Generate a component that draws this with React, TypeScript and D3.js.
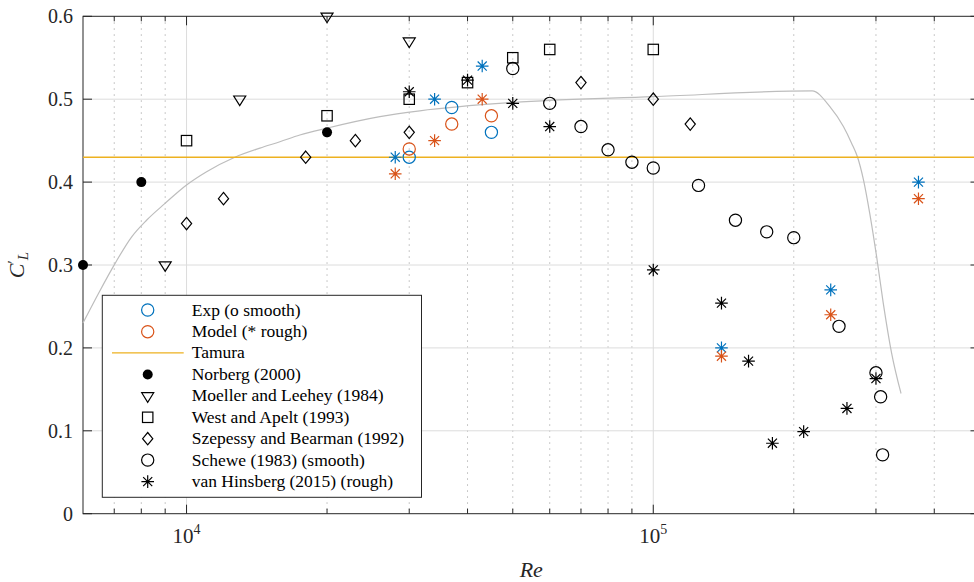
import * as d3 from "d3";
import React from "react";

// Lift coefficient C'_L vs Reynolds number
const norbergRe = [6000, 8000, 20000];
const norbergCL = [0.3, 0.4, 0.46];

const moellerRe = [9000, 13000, 20000, 30000];
const moellerCL = [0.3, 0.5, 0.6, 0.57];

const westRe = [10000, 20000, 30000, 40000, 50000, 60000, 100000];
const westCL = [0.45, 0.48, 0.5, 0.52, 0.55, 0.56, 0.56];

const szepessyRe = [10000, 12000, 18000, 23000, 30000, 70000, 100000, 120000];
const szepessyCL = [0.35, 0.38, 0.43, 0.45, 0.46, 0.52, 0.5, 0.47];

const scheweRe = [50000, 60000, 70000, 80000, 90000, 100000, 125000, 150000, 175000, 200000, 250000, 300000, 307000, 310000];
const scheweCL = [0.537, 0.495, 0.467, 0.439, 0.424, 0.417, 0.396, 0.354, 0.34, 0.333, 0.226, 0.17, 0.141, 0.071];

const hinsbergRe = [30000, 40000, 50000, 60000, 100000, 140000, 160000, 180000, 210000, 260000, 300000];
const hinsbergCL = [0.509, 0.523, 0.495, 0.467, 0.294, 0.254, 0.184, 0.085, 0.099, 0.127, 0.163];

const expSmoothRe = [30000, 37000, 45000];
const expSmoothCL = [0.43, 0.49, 0.46];
const expRoughRe = [28000, 34000, 43000, 140000, 240000, 370000];
const expRoughCL = [0.43, 0.5, 0.54, 0.2, 0.27, 0.4];

const modelSmoothRe = [30000, 37000, 45000];
const modelSmoothCL = [0.44, 0.47, 0.48];
const modelRoughRe = [28000, 34000, 43000, 140000, 240000, 370000];
const modelRoughCL = [0.41, 0.45, 0.5, 0.19, 0.24, 0.38];

const tamuraCL = 0.43;

// grey fitted curve (no legend entry)
const curveRe = [6000, 6480, 7030, 7630, 8210, 8980, 10000, 11040, 12690, 14360, 15850, 17490, 19950, 25960, 31600, 50000, 100000, 219000, 239000, 255500, 266000, 274000, 282000, 291000, 301000, 311000, 324000, 339500];
const curveCL = [0.23, 0.266, 0.302, 0.334, 0.354, 0.374, 0.3965, 0.4125, 0.43, 0.441, 0.4487, 0.4568, 0.465, 0.479, 0.486, 0.496, 0.503, 0.51, 0.491, 0.467, 0.447, 0.43, 0.403, 0.362, 0.31, 0.254, 0.194, 0.145];

const legendLabels = [
	"Exp (o smooth)",
	"Model (* rough)",
	"Tamura",
	"Norberg (2000)",
	"Moeller and Leehey (1984)",
	"West and Apelt (1993)",
	"Szepessy and Bearman (1992)",
	"Schewe (1983) (smooth)",
	"van Hinsberg (2015) (rough)",
];
const yTicks = [0, 0.1, 0.2, 0.3, 0.4, 0.5, 0.6];

const BLUE = "#0072BD";
const ORANGE = "#D95319";
const YELLOW = "#EDB120";
const INK = "#262626";
const FONT = "'Liberation Serif', 'DejaVu Serif', serif";

type MarkerType = "circle" | "filled" | "tri" | "square" | "diamond" | "star";

const Marker = ({ type, x, y, color = "#000" }: { type: MarkerType; x: number; y: number; color?: string }) => {
	const sw = 1.2;
	if (type === "circle")
		return <circle cx={x} cy={y} r={6.1} fill="none" stroke={color} strokeWidth={sw} />;
	if (type === "filled") return <circle cx={x} cy={y} r={5} fill={color} />;
	if (type === "square")
		return <rect x={x - 5.2} y={y - 5.2} width={10.4} height={10.4} fill="none" stroke={color} strokeWidth={sw} />;
	if (type === "diamond")
		return (
			<polygon
				points={`${x},${y - 6.2} ${x + 5.1},${y} ${x},${y + 6.2} ${x - 5.1},${y}`}
				fill="none"
				stroke={color}
				strokeWidth={sw}
			/>
		);
	if (type === "tri")
		return (
			<polygon
				points={`${x - 6},${y - 3.2} ${x + 6},${y - 3.2} ${x},${y + 6.4}`}
				fill="none"
				stroke={color}
				strokeWidth={sw}
			/>
		);
	const r = 6.3,
		d = r * 0.72;
	return (
		<path
			d={`M${x - r},${y}H${x + r}M${x},${y - r}V${y + r}M${x - d},${y - d}L${x + d},${y + d}M${x - d},${y + d}L${x + d},${y - d}`}
			stroke={color}
			strokeWidth={sw}
			fill="none"
		/>
	);
};

const App = () => {
	const W = 974,
		H = 582;
	const left = 83,
		right = 979.5,
		top = 16.3,
		bottom = 513.7;

	const x = d3.scaleLog().domain([6000, 5e5]).range([left, right]);
	const y = d3.scaleLinear().domain([0, 0.6]).range([bottom, top]);

	const majorX = [1e4, 1e5];
	const minorX = [7000, 8000, 9000, 20000, 30000, 40000, 50000, 60000, 70000, 80000, 90000, 2e5, 3e5, 4e5];

	const curvePath = d3
		.line<number>()
		.x((_, i) => x(curveRe[i]))
		.y((d) => y(d))
		.curve(d3.curveMonotoneX)(curveCL);

	const pts = (re: number[], cl: number[], type: MarkerType, color?: string) =>
		re.map((r, i) => <Marker key={`${type}-${color}-${i}`} type={type} x={x(r)} y={y(cl[i])} color={color} />);

	const legendRowY = [310, 331.7, 352.9, 374.5, 395.9, 417.3, 438.7, 460.1, 481.6];
	const legendMarkers: (MarkerType | "line")[] = ["circle", "circle", "line", "filled", "tri", "square", "diamond", "circle", "star"];
	const legendColors = [BLUE, ORANGE, YELLOW, "#000", "#000", "#000", "#000", "#000", "#000"];

	return (
		<svg width={W} height={H} style={{ position: "absolute", left: 0, top: 0, background: "#fff" }} fontFamily={FONT}>
			<rect x={0} y={0} width={W} height={H} fill="#fff" />
			{/* grid */}
			{minorX.map((v) => (
				<line key={`mg${v}`} x1={x(v)} x2={x(v)} y1={top} y2={bottom} stroke="#b8b8b8" strokeWidth={1} strokeDasharray="1.5,4.5" />
			))}
			{majorX.map((v) => (
				<line key={`Mg${v}`} x1={x(v)} x2={x(v)} y1={top} y2={bottom} stroke="#dcdcdc" strokeWidth={1} />
			))}
			{yTicks.slice(1, -1).map((v) => (
				<line key={`yg${v}`} x1={left} x2={right} y1={y(v)} y2={y(v)} stroke="#dcdcdc" strokeWidth={1} />
			))}

			{/* axes box and ticks */}
			<rect x={left} y={top} width={right - left} height={bottom - top} fill="none" stroke={INK} strokeWidth={1} />
			{majorX.map((v) => (
				<g key={`mt${v}`} stroke={INK} strokeWidth={1}>
					<line x1={x(v)} x2={x(v)} y1={bottom} y2={bottom - 9} />
					<line x1={x(v)} x2={x(v)} y1={top} y2={top + 9} />
				</g>
			))}
			{minorX.map((v) => (
				<g key={`nt${v}`} stroke={INK} strokeWidth={1}>
					<line x1={x(v)} x2={x(v)} y1={bottom} y2={bottom - 5} />
					<line x1={x(v)} x2={x(v)} y1={top} y2={top + 5} />
				</g>
			))}
			{yTicks.map((v) => (
				<g key={`yt${v}`} stroke={INK} strokeWidth={1}>
					<line x1={left} x2={left + 9} y1={y(v)} y2={y(v)} />
					<line x1={right} x2={right - 9} y1={y(v)} y2={y(v)} />
				</g>
			))}
			{yTicks.map((v) => (
				<text key={`yl${v}`} x={left - 10} y={y(v) + 7} textAnchor="end" fontSize={20} fill={INK}>
					{v === 0 ? "0" : d3.format(".1f")(v)}
				</text>
			))}
			{majorX.map((v) => (
				<text key={`xl${v}`} x={x(v)} y={543} textAnchor="middle" fontSize={21} fill={INK}>
					<tspan>10</tspan>
					<tspan dy={-9} fontSize={14}>
						{Math.round(Math.log10(v))}
					</tspan>
				</text>
			))}
			<text x={(left + right) / 2} y={577} textAnchor="middle" fontSize={22} fontStyle="italic" fill={INK}>
				Re
			</text>
			<text transform={`translate(24,${(top + bottom) / 2}) rotate(-90)`} textAnchor="middle" fontSize={22} fill={INK}>
				<tspan fontStyle="italic">C</tspan>
				<tspan dy={-6} fontSize={15}>′</tspan>
				<tspan dy={10} fontSize={15} fontStyle="italic">L</tspan>
			</text>

			{/* data */}
			<path d={curvePath ?? ""} fill="none" stroke="#bdbdbd" strokeWidth={1.2} />
			<line x1={left} x2={right} y1={y(tamuraCL)} y2={y(tamuraCL)} stroke={YELLOW} strokeWidth={1.3} />
			{pts(expSmoothRe, expSmoothCL, "circle", BLUE)}
			{pts(modelSmoothRe, modelSmoothCL, "circle", ORANGE)}
			{pts(expRoughRe, expRoughCL, "star", BLUE)}
			{pts(modelRoughRe, modelRoughCL, "star", ORANGE)}
			{pts(norbergRe, norbergCL, "filled", "#000")}
			{pts(moellerRe, moellerCL, "tri", "#000")}
			{pts(westRe, westCL, "square", "#000")}
			{pts(szepessyRe, szepessyCL, "diamond", "#000")}
			{pts(scheweRe, scheweCL, "circle", "#000")}
			{pts(hinsbergRe, hinsbergCL, "star", "#000")}

			{/* legend */}
			<rect x={102.3} y={295.3} width={319.2} height={202} fill="#fff" stroke={INK} strokeWidth={1} />
			{legendLabels.map((label, i) => (
				<g key={label}>
					{legendMarkers[i] === "line" ? (
						<line x1={112} x2={183.7} y1={legendRowY[i]} y2={legendRowY[i]} stroke={legendColors[i]} strokeWidth={1.3} />
					) : (
						<Marker type={legendMarkers[i] as MarkerType} x={147.7} y={legendRowY[i]} color={legendColors[i]} />
					)}
					<text x={191.7} y={legendRowY[i] + 5.5} fontSize={17.5} fill="#000">
						{label}
					</text>
				</g>
			))}
		</svg>
	);
};

export default App;
